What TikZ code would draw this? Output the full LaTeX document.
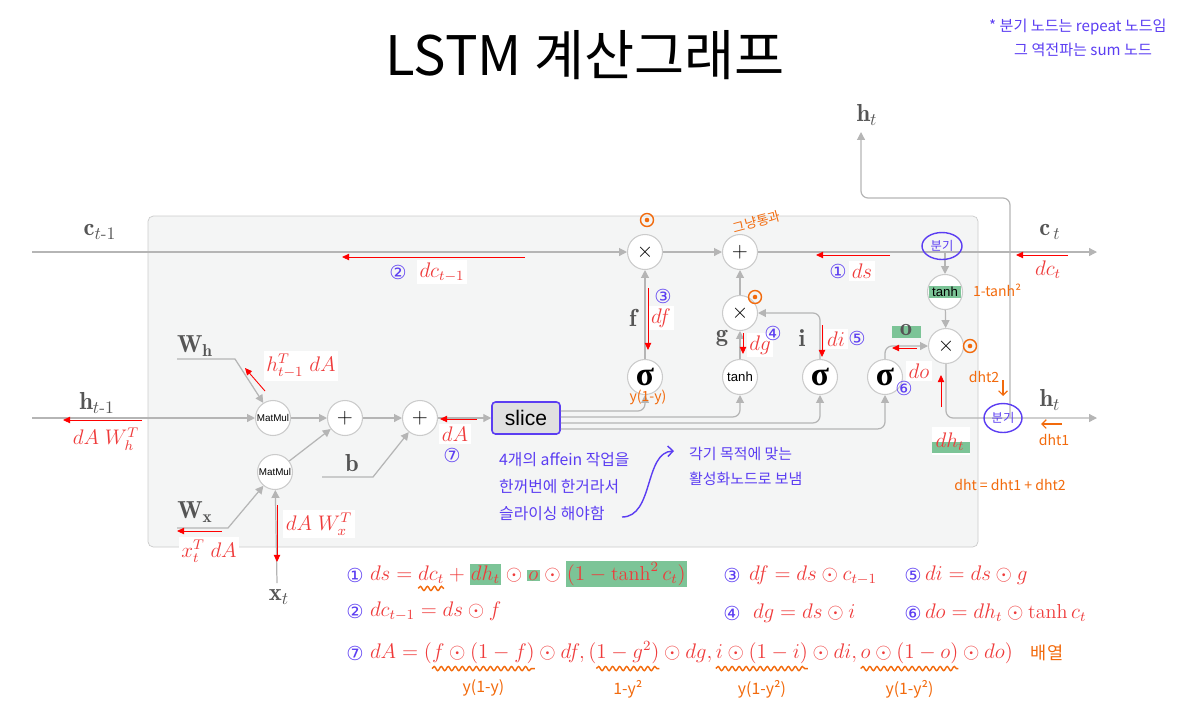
\documentclass[tikz,border=0pt]{standalone}
\usepackage{amsmath,amssymb}
\usepackage{fontspec}
\newfontfamily\kofont{Noto Sans CJK KR}
\newfontfamily\dejafont{DejaVu Sans}
\newfontfamily\uifont{Liberation Sans}
\newfontfamily\greekfont{Liberation Serif}
\usetikzlibrary{arrows.meta,positioning,calc,shapes.geometric,decorations.pathmorphing}

\definecolor{linegray}{HTML}{B5B5B5}
\definecolor{boxfill}{HTML}{F4F5F5}
\definecolor{boxline}{HTML}{CBCBCB}
\definecolor{labelgray}{HTML}{555555}
\definecolor{gradred}{HTML}{EF3B3B}
\definecolor{penpurple}{HTML}{5B3DF2}
\definecolor{penorange}{HTML}{F26A0C}
\definecolor{markgreen}{HTML}{7CC497}

\newcommand{\hlmark}[1]{{\setlength{\fboxsep}{0.8pt}\colorbox{markgreen}{#1}}}
\newcommand{\sigmark}{{\greekfont\bfseries σ}}

\tikzset{
  flow/.style={draw=linegray,line width=0.7pt,-{Triangle[length=4.5pt,width=4.5pt]}},
  opnode/.style={circle,draw=boxline,fill=white,line width=0.6pt,minimum size=0.7cm,
    inner sep=0pt,font=\fontsize{13}{14}\selectfont},
  signode/.style={opnode,font=\fontsize{19}{19}\selectfont},
  mmnode/.style={opnode,font=\uifont\fontsize{5.6}{6}\selectfont},
  tanhnode/.style={opnode,font=\uifont\fontsize{7.5}{8}\selectfont},
  grad/.style={draw=red,line width=0.5pt,-{Triangle[length=4pt,width=3.6pt]}},
  gradlbl/.style={text=gradred,fill=white,inner sep=1.5pt,font=\fontsize{12}{14}\selectfont},
  varlbl/.style={text=labelgray,font=\fontsize{14}{16}\selectfont},
  pnote/.style={text=penpurple,font=\kofont\fontsize{9}{15.5}\selectfont,align=left},
  onote/.style={text=penorange,font=\kofont\fontsize{8}{10}\selectfont},
  cnum/.style={text=penpurple,font=\dejafont\fontsize{11}{12}\selectfont,inner sep=0pt},
  oddot/.style={circle,draw=penorange,line width=0.8pt,minimum size=0.26cm,inner sep=0pt,
    path picture={\fill[penorange] (path picture bounding box.center) circle (1.3pt);}},
  fork/.style={ellipse,draw=penpurple,line width=0.8pt,text=penpurple,inner sep=0pt,
    minimum width=0.8cm,minimum height=0.54cm,font=\kofont\fontsize{7}{8}\selectfont},
  eqpart/.style={text=gradred,inner sep=0pt,outer sep=0pt,anchor=base west,
    font=\fontsize{11.5}{14}\selectfont},
  squig/.style={draw=penorange,line width=0.8pt,decorate,
    decoration={snake,amplitude=1.2pt,segment length=4pt}},
}

\begin{document}
\begin{tikzpicture}[x=0.02cm,y=-0.02cm]
  \useasboundingbox (0,0) rectangle (1189,701);
  % 제목, 메모
  \node[font=\kofont\fontsize{31}{36}\selectfont] (title) at (585,55) {LSTM 계산그래프};
  \node[pnote,font=\kofont\fontsize{8.6}{10}\selectfont,anchor=west] (memo1) at (983,27) {* 분기 노드는 repeat 노드임};
  \node[pnote,font=\kofont\fontsize{8.6}{10}\selectfont,anchor=west] (memo2) at (1008,50) {그 역전파는 sum 노드};

  % 상자
  \draw[boxline,fill=boxfill,rounded corners=3] (148,216) rectangle (978,547);

  % 노드
  \node[mmnode] (mmh) at (273,418) {MatMul};
  \node[mmnode] (mmx) at (275,472) {MatMul};
  \node[opnode] (addh) at (345,418) {$+$};
  \node[opnode] (addb) at (420,418) {$+$};
  \node[draw=penpurple,fill=black!12,line width=0.9pt,rounded corners=2,minimum width=1.36cm,
    minimum height=0.64cm,font=\uifont\fontsize{12}{14}\selectfont] (slice) at (526,418) {slice};
  \node[signode] (sigf) at (645,377) {\sigmark};
  \node[tanhnode] (tanhg) at (740,377) {tanh};
  \node[signode] (sigi) at (820,377) {\sigmark};
  \node[signode] (sigo) at (885,377) {\sigmark};
  \node[opnode] (mulf) at (645,252) {$\times$};
  \node[opnode] (addc) at (740,252) {$+$};
  \node[opnode] (mulg) at (740,313) {$\times$};
  \node[tanhnode] (tanhc) at (945,292) {\hlmark{\,tanh\,}};
  \node[opnode] (mulo) at (946,346) {$\times$};

  \coordinate (cin) at (32,252);
  \coordinate (cout) at (1097,252);
  \coordinate (cfork) at (945,252);
  \coordinate (hin) at (32,418);
  \coordinate (hout) at (1097,418);
  \coordinate (hfork) at (1010,418);
  \coordinate (hbend) at (1010,198);
  \coordinate (htop) at (861,132);
  \coordinate (whin) at (177,359);
  \coordinate (whk) at (235,359);
  \coordinate (wxin) at (177,528);
  \coordinate (wxk) at (228,528);
  \coordinate (bin) at (322,477);
  \coordinate (bk) at (373,477);
  \coordinate (xin) at (277,583);

  % 순전파 흐름
  \draw[flow] (cin) -- (mulf);
  \draw[flow] (mulf) -- (addc);
  \draw[flow] (addc) -- (cout);
  \draw[flow] (cfork) -- (tanhc);
  \draw[flow] (tanhc) -- (mulo);
  \draw[flow,rounded corners=4] (mulo) |- (hout);
  \draw[flow,rounded corners=4] (hfork) -- (hbend) -| (htop);
  \draw[flow] (hin) -- (mmh);
  \draw[flow] (whin) -- (whk) -- (mmh);
  \draw[flow] (wxin) -- (wxk) -- (mmx);
  \draw[flow] (xin) -- (mmx);
  \draw[flow] (mmh) -- (addh);
  \draw[flow] (mmx) -- (addh);
  \draw[flow] (addh) -- (addb);
  \draw[flow] (bin) -- (bk) -- (addb);
  \draw[flow] (addb) -- (slice);
  \draw[flow,rounded corners=4] ([yshift=4pt]slice.east) -| (sigf);
  \draw[flow,rounded corners=4] ([yshift=0.6pt]slice.east) -| (tanhg);
  \draw[flow,rounded corners=4] ([yshift=-2.8pt]slice.east) -| (sigi);
  \draw[flow,rounded corners=4] ([yshift=-6.2pt]slice.east) -| (sigo);
  \draw[flow] (sigf) -- (mulf);
  \draw[flow] (tanhg) -- (mulg);
  \draw[flow] (mulg) -- (addc);
  \draw[flow,rounded corners=4] (sigi) |- (mulg);
  \draw[flow,rounded corners=4] (sigo) |- (mulo);

  % 변수 이름
  \node[varlbl] (lc0) at (100,232) {$\mathbf{c}_{t\text{-}1}$};
  \node[varlbl] (lc1) at (1050,232) {$\mathbf{c}_{\,t}$};
  \node[varlbl] (lh0) at (97,403) {$\mathbf{h}_{t\text{-}1}$};
  \node[varlbl] (lh1) at (1050,400) {$\mathbf{h}_t$};
  \node[varlbl] (lh2) at (867,115) {$\mathbf{h}_t$};
  \node[varlbl] (lwh) at (195,346) {$\mathbf{W}_{\mathbf{h}}$};
  \node[varlbl] (lwx) at (195,512) {$\mathbf{W}_{\mathbf{x}}$};
  \node[varlbl] (lb) at (352,463) {$\mathbf{b}$};
  \node[varlbl] (lx) at (279,597) {$\mathbf{x}_t$};
  \node[varlbl] (lf) at (633,318) {$\mathbf{f}$};
  \node[varlbl] (lg) at (722,338) {$\mathbf{g}$};
  \node[varlbl] (li) at (802,338) {$\mathbf{i}$};
  \fill[markgreen] (892,326) rectangle (921,338);
  \node[varlbl] (lo) at (906,330) {$\mathbf{o}$};

  % 역전파 (빨강)
  \draw[grad] (525,257) -- (342,257);
  \node[gradlbl] (gdc0) at (442,272) {$dc_{t-1}$};
  \node[cnum] (n2) at (398,272) {②};
  \draw[grad] (890,255) -- (816,255);
  \node[gradlbl] (gds) at (862,271) {$ds$};
  \node[cnum] (n1) at (838,271) {①};
  \draw[grad] (1068,255) -- (1016,255);
  \node[gradlbl] (gdc1) at (1048,270) {$dc_t$};
  \draw[grad] (648,288) -- (648,350);
  \node[gradlbl] (gdf) at (661,318) {$df$};
  \node[cnum] (n3) at (663,296) {③};
  \draw[grad] (743,333) -- (743,354);
  \node[gradlbl] (gdg) at (760,345) {$dg$};
  \node[cnum] (n4) at (773,333) {④};
  \draw[grad] (822,325) -- (822,357);
  \node[gradlbl] (gdi) at (836,339) {$di$};
  \node[cnum] (n5) at (857,338) {⑤};
  \draw[grad] (917,348) -- (892,348);
  \node[gradlbl] (gdo) at (919,371) {$do$};
  \node[cnum] (n6) at (904,388) {⑥};
  \draw[grad] (941,407) -- (941,375);
  \fill[white] (932,427) rectangle (970,455);
  \fill[markgreen] (932,442) rectangle (970,453);
  \node[text=gradred,font=\fontsize{12}{14}\selectfont] (gdh) at (950,442) {$dh_t$};
  \draw[grad] (477,419) -- (440,419);
  \node[gradlbl] (gda) at (455,434) {$dA$};
  \node[cnum] (n7) at (452,455) {⑦};
  \draw[grad] (142,420) -- (63,420);
  \node[gradlbl] (gwh) at (106,439) {$dA\;W_h^T$};
  \draw[grad] (265,391) -- (245,368);
  \node[gradlbl] (ghx) at (301,366) {$h_{t-1}^T\;dA$};
  \draw[grad] (222,531) -- (177,531);
  \node[gradlbl] (gxt) at (209,551) {$x_t^T\;dA$};
  \draw[grad] (277,505) -- (277,562);
  \node[gradlbl] (gwx) at (319,524) {$dA\;W_x^T$};

  % 손글씨 메모
  \node[oddot] (od1) at (647,220) {};
  \node[oddot] (od2) at (755,297) {};
  \node[oddot] (od3) at (970,346) {};
  \node[onote,rotate=15,font=\kofont\fontsize{7.5}{9}\selectfont] (pass) at (757,222) {그냥통과};
  \node[onote] (dtanh) at (997,290) {1-tanh²};
  \node[onote] (ysig) at (648,397) {y(1-y)};
  \node[onote] (dh2) at (984,377) {dht2};
  \draw[penorange,line width=0.7pt,-{Straight Barb[length=2.5pt]}] (1003,380) -- (1003,396);
  \draw[penorange,line width=0.7pt,-{Straight Barb[length=2.5pt]}] (1062,424) -- (1041,424);
  \node[onote] (dh1) at (1054,440) {dht1};
  \node[onote] (dhsum) at (1010,485) {dht = dht1 + dht2};
  \node[fork] (fork1) at (942,246) {분기};
  \node[fork,minimum width=0.76cm,minimum height=0.58cm] (fork2) at (1003,418) {분기};
  \node[pnote,anchor=north west] (memo3) at (493,446) {4개의 affein 작업을\\한꺼번에 한거라서\\슬라이싱 해야함};
  \node[pnote,font=\kofont\fontsize{8.5}{14}\selectfont,anchor=north west] (memo4) at (683,441) {각기 목적에 맞는\\활성화노드로 보냄};
  \coordinate (noteA) at (622,517);
  \coordinate (noteB) at (674,451);
  \draw[penpurple,line width=0.8pt,-{Straight Barb[length=3pt]}] (noteA) .. controls (654,517) and (644,452) .. (noteB);

  % 식
  \node[cnum] (e1n) at (355,575) {①};
  \node[eqpart] (e1a) at (370,580) {$ds = {}$};
  \node[eqpart] (e1b) at (e1a.base east) {$dc_t$};
  \node[eqpart] (e1c) at (e1b.base east) {${}+\hlmark{$dh_t$}\odot\hlmark{$o$}\odot\hlmark{$(1-\tanh^2 c_t)$}$};
  \draw[squig] ([yshift=-3pt]e1b.south west) -- ([yshift=-3pt]e1b.south east);
  \node[cnum] (e2n) at (355,611) {②};
  \node[eqpart] (e2a) at (370,616) {$dc_{t-1} = ds\odot f$};
  \node[cnum] (e3n) at (732,575) {③};
  \node[eqpart] (e3a) at (749,580) {$df = ds\odot c_{t-1}$};
  \node[cnum] (e4n) at (732,613) {④};
  \node[eqpart] (e4a) at (753,618) {$dg = ds\odot i$};
  \node[cnum] (e5n) at (913,575) {⑤};
  \node[eqpart] (e5a) at (925,580) {$di = ds\odot g$};
  \node[cnum] (e6n) at (913,613) {⑥};
  \node[eqpart] (e6a) at (925,618) {$do = dh_t\odot\tanh c_t$};

  \node[cnum] (e7n) at (355,653) {⑦};
  \node[eqpart] (e7a) at (370,658) {$dA = ($};
  \node[eqpart] (e7b) at (e7a.base east) {$f\odot(1-f)$};
  \node[eqpart] (e7c) at (e7b.base east) {${}\odot df, ($};
  \node[eqpart] (e7d) at (e7c.base east) {$1-g^2)$};
  \node[eqpart] (e7e) at (e7d.base east) {${}\odot dg,\,$};
  \node[eqpart] (e7f) at (e7e.base east) {$i\odot(1-i)$};
  \node[eqpart] (e7g) at (e7f.base east) {${}\odot di,\,$};
  \node[eqpart] (e7h) at (e7g.base east) {$o\odot(1-o)$};
  \node[eqpart] (e7i) at (e7h.base east) {${}\odot do)$};
  \node[onote,font=\kofont\fontsize{10}{12}\selectfont] (arr) at (1047,653) {배열};
  \foreach \p/\t in {e7b/y(1-y),e7d/1-y²,e7f/y(1-y²),e7h/y(1-y²)}{
    \draw[squig] ([yshift=-3pt]\p.south west) -- ([yshift=-3pt]\p.south east);
    \node[onote,font=\kofont\fontsize{9}{11}\selectfont,below=6pt of \p] {\t};
  }
\end{tikzpicture}
\end{document}
